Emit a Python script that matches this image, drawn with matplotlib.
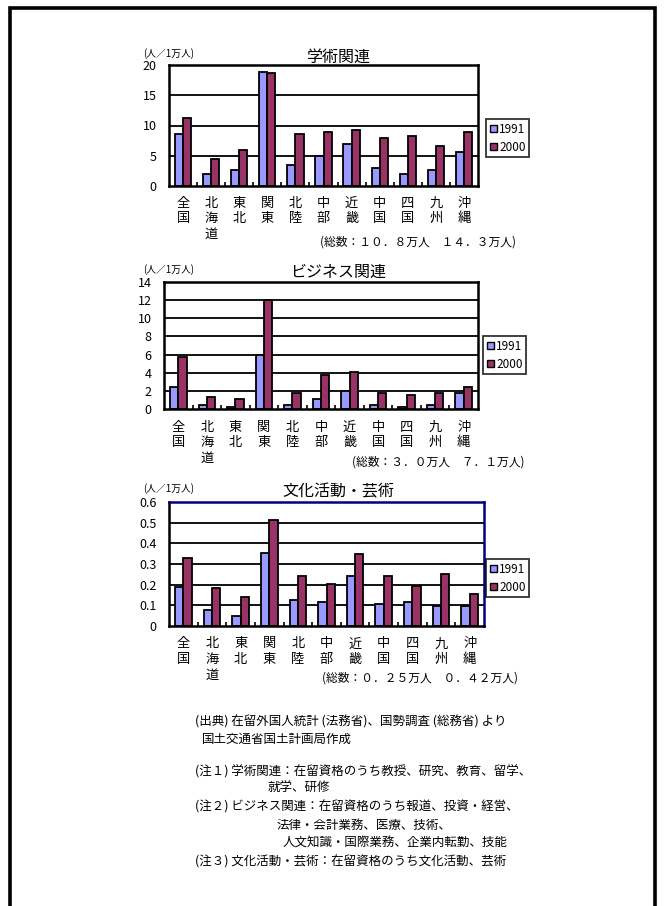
import matplotlib
matplotlib.use("Agg")
import matplotlib.pyplot as plt
import matplotlib.transforms as mtransforms
import numpy as np
from matplotlib.patches import Rectangle, Patch

plt.rcParams['font.family'] = ['Noto Sans CJK JP', 'DejaVu Sans']

# Regions (vertical labels, one character per line)
regions = ["全国", "北海道", "東北", "関東", "北陸", "中部", "近畿", "中国", "四国", "九州", "沖縄"]
series_names = ["1991", "2000"]

# Foreign residents per 10,000 population
academic_1991 = [8.6, 2.0, 2.65, 18.9, 3.4, 5.0, 7.0, 3.0, 2.0, 2.65, 5.6]
academic_2000 = [11.3, 4.4, 6.0, 18.6, 8.6, 9.0, 9.3, 8.0, 8.3, 6.6, 8.95]

business_1991 = [2.42, 0.4, 0.2, 5.9, 0.4, 1.06, 1.97, 0.4, 0.2, 0.4, 1.72]
business_2000 = [5.7, 1.28, 1.06, 12.0, 1.75, 3.7, 4.1, 1.75, 1.53, 1.75, 2.42]

culture_1991 = [0.19, 0.076, 0.049, 0.351, 0.128, 0.117, 0.243, 0.105, 0.117, 0.097, 0.097]
culture_2000 = [0.33, 0.186, 0.138, 0.515, 0.243, 0.204, 0.35, 0.243, 0.193, 0.252, 0.155]

titles = ["学術関連", "ビジネス関連", "文化活動・芸術"]
totals = ["(総数：１０．８万人　１４．３万人)",
          "(総数：３．０万人　７．１万人)",
          "(総数：０．２５万人　０．４２万人)"]
y_limits = [(0, 20), (0, 14), (0, 0.6)]
y_steps = [5, 2, 0.1]
unit_label = "(人／1万人)"

notes = [
    ("(出典) 在留外国人統計 (法務省)、国勢調査 (総務省) より", 195, 722),
    ("国土交通省国土計画局作成", 202, 739),
    ("(注１) 学術関連：在留資格のうち教授、研究、教育、留学、", 195, 772),
    ("就学、研修", 268, 788),
    ("(注２) ビジネス関連：在留資格のうち報道、投資・経営、", 195, 807),
    ("法律・会計業務、医療、技術、", 277, 825),
    ("人文知識・国際業務、企業内転勤、技能", 283, 843),
    ("(注３) 文化活動・芸術：在留資格のうち文化活動、芸術", 195, 862),
]

W, H = 666, 906
fig = plt.figure(figsize=(W / 100, H / 100), dpi=100)
fig.patch.set_facecolor("white")


def fx(px):
    return px / W


def fy(py):
    return 1 - py / H


# outer page frame
fig.patches.append(Rectangle((fx(9.5), fy(960)), fx(655) - fx(9.5), fy(8.5) - fy(960),
                             transform=fig.transFigure, fill=False,
                             edgecolor="black", linewidth=2.6, zorder=0))

c1991 = "#9999FF"
c2000 = "#993366"

# axes boxes in pixels: left, right, top, bottom
boxes = [(169, 478, 65, 186), (164, 478, 282, 409), (169, 484, 502, 626)]
legend_pos = [(486, 119), (483, 336), (486, 559)]
title_y = [57, 272, 492]
unit_pos = [(143, 54), (143, 270), (143, 489)]
total_pos = [(516, 242), (524, 462), (518, 678)]
label_top = [203, 427, 644]
data = [(academic_1991, academic_2000), (business_1991, business_2000),
        (culture_1991, culture_2000)]

x = np.arange(len(regions))
bw = 0.29

for i, ((l, r, t, b), (s1, s2)) in enumerate(zip(boxes, data)):
    ax = fig.add_axes([fx(l), fy(b), fx(r) - fx(l), fy(t) - fy(b)])
    ax.bar(x - bw / 2, s1, bw, color=c1991, edgecolor="black", linewidth=1.3, zorder=3)
    ax.bar(x + bw / 2, s2, bw, color=c2000, edgecolor="black", linewidth=1.3, zorder=3)
    ax.set_xlim(-0.5, len(regions) - 0.5)
    lo, hi = y_limits[i]
    ax.set_ylim(lo, hi)
    ticks = np.round(np.arange(lo, hi + y_steps[i] / 2, y_steps[i]), 2)
    ax.set_yticks(ticks)
    if i == 2:
        ax.set_yticklabels(["0"] + [f"{v:.1f}" for v in ticks[1:]])
    else:
        ax.set_yticklabels([f"{v:g}" for v in ticks])
    ax.tick_params(axis="y", length=0, pad=9, labelsize=9)
    for v in ticks[1:-1]:
        ax.axhline(v, color="black", linewidth=1.3, zorder=1)
    ax.set_xticks([])
    ax.set_xticks(np.arange(0.5, len(regions) - 0.5), minor=True)
    ax.tick_params(axis="x", which="minor", direction="in", length=3, width=1.2,
                   color="black", labelbottom=False)
    frame_color = "#000080" if i == 2 else "black"
    for name, sp in ax.spines.items():
        sp.set_linewidth(1.8)
        sp.set_color("black" if name in ("bottom", "left") else frame_color)
        sp.set_zorder(4)

    # vertical category labels, one character per line
    trans = mtransforms.blended_transform_factory(ax.transData, fig.transFigure)
    for xi, name in zip(x, regions):
        for k, ch in enumerate(name):
            ax.text(xi, fy(label_top[i] + 15.5 * k), ch, transform=trans,
                    ha="center", va="center", fontsize=9.5)

    fig.text(fx(338), fy(title_y[i]), titles[i], ha="center", va="center", fontsize=11.5)
    fig.text(fx(unit_pos[i][0]), fy(unit_pos[i][1]), unit_label, ha="left", va="center",
             fontsize=7)
    fig.text(fx(total_pos[i][0]), fy(total_pos[i][1]), totals[i], ha="right", va="center",
             fontsize=8.5)

    handles = [Patch(facecolor=c1991, edgecolor="black", linewidth=1.0),
               Patch(facecolor=c2000, edgecolor="black", linewidth=1.0)]
    leg = fig.legend(handles, series_names, loc="upper left",
                     bbox_to_anchor=(fx(legend_pos[i][0]), fy(legend_pos[i][1])),
                     bbox_transform=fig.transFigure, fontsize=8.5, frameon=True,
                     fancybox=False, handlelength=0.6, handleheight=0.6, handletextpad=0.2,
                     borderpad=0.3, labelspacing=0.45, borderaxespad=0)
    leg.get_frame().set_edgecolor("black")
    leg.get_frame().set_linewidth(1.3)

for txt, px, py in notes:
    fig.text(fx(px), fy(py), txt, ha="left", va="center", fontsize=9)

fig.savefig("out.png", dpi=100, facecolor="white")
